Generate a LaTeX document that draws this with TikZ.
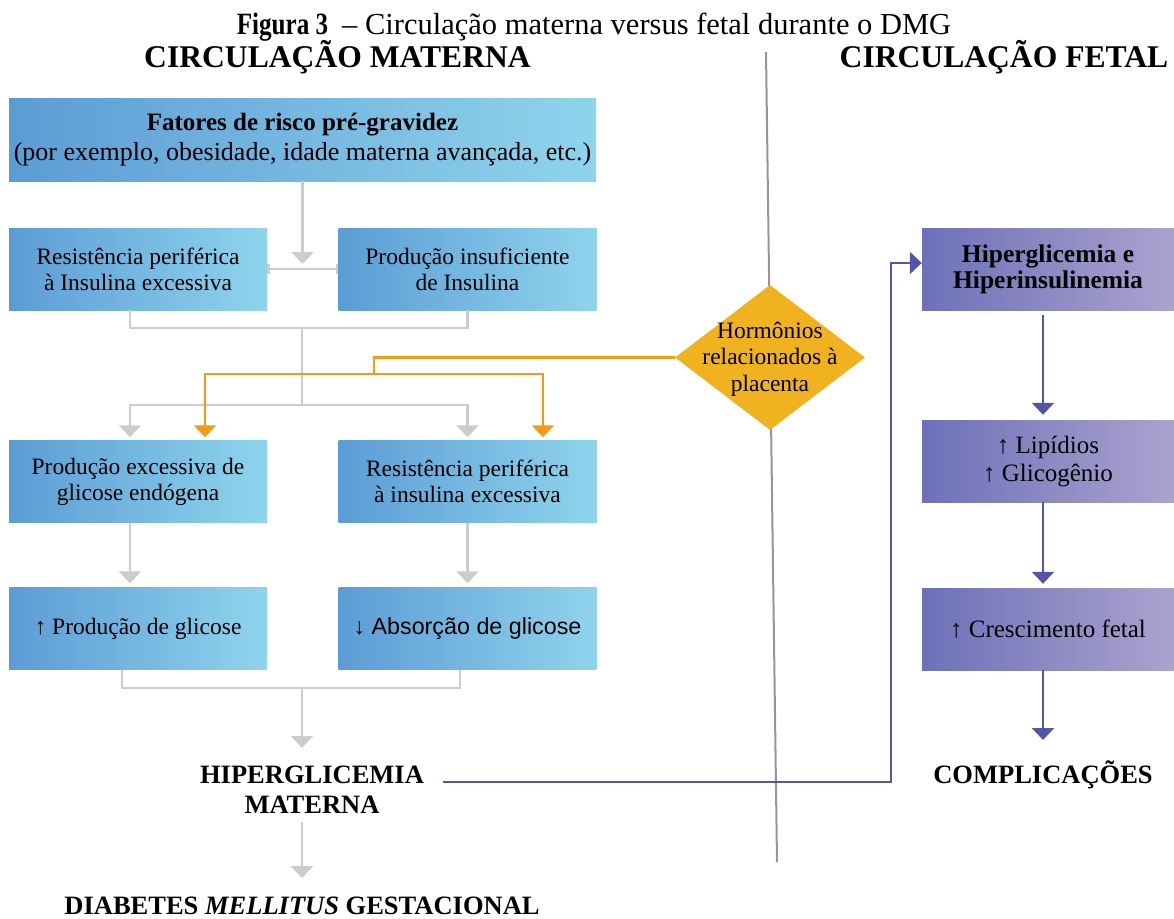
\documentclass[tikz,border=0pt]{standalone}
\usepackage{fontspec}
\setmainfont{Liberation Serif}
\newfontfamily\arialfont{Liberation Sans}
\usetikzlibrary{arrows.meta,shapes.geometric}

\definecolor{matL}{RGB}{92,156,213}
\definecolor{matR}{RGB}{143,212,236}
\definecolor{fetL}{RGB}{108,113,184}
\definecolor{fetR}{RGB}{172,162,206}
\definecolor{conn}{RGB}{204,204,204}
\definecolor{hormfill}{RGB}{240,178,30}
\definecolor{hormline}{RGB}{243,154,27}
\definecolor{fetline}{RGB}{82,85,168}
\definecolor{divider}{RGB}{150,150,150}

\begin{document}
\begin{tikzpicture}[x=1pt,y=-1pt,
  mbox/.style={shading=axis,left color=matL,right color=matR,draw=none,
    minimum width=258pt,minimum height=82pt,inner sep=0pt,align=center,
    font=\fontsize{23.5}{26}\selectfont},
  fbox/.style={shading=axis,left color=fetL,right color=fetR,draw=none,
    minimum width=252pt,minimum height=82pt,inner sep=0pt,align=center,
    font=\fontsize{25}{28}\selectfont},
  caps/.style={font=\bfseries\fontsize{26.5}{30}\selectfont,align=center,inner sep=0pt},
  heading/.style={font=\bfseries\fontsize{31.6}{36}\selectfont,inner sep=0pt},
  gline/.style={draw=conn,line width=2.5pt},
  garrow/.style={gline,-{Triangle[width=22pt,length=12pt]}},
  oline/.style={draw=hormline,line width=2.5pt},
  oarrow/.style={oline,-{Triangle[width=22pt,length=12pt]}},
  bline/.style={draw=fetline,line width=2.5pt},
  barrow/.style={bline,-{Triangle[width=22pt,length=12pt]}}]

\useasboundingbox (0,0) rectangle (1174,918);

% headings
\node[inner sep=0pt,anchor=base] (title) at (594,34)
  {\fontsize{31}{34}\selectfont\scalebox{0.81}[1]{\textbf{Figura 3}}\hspace{14pt}%
   \fontsize{30.5}{34}\selectfont\scalebox{1}[1]{– Circulação materna versus fetal durante o DMG}};
\node[heading] (hmat) at (337.5,57) {CIRCULAÇÃO MATERNA};
\node[heading] (hfet) at (1004,57) {CIRCULAÇÃO FETAL};

% divider between the two circulations
\coordinate (d0) at (766,52);
\coordinate (d1) at (777,862);
\draw[draw=divider,line width=2pt] (d0) -- (d1);

% maternal side
\node[mbox,minimum width=587pt,minimum height=83pt,font=\fontsize{26}{30}\selectfont]
  (top) at (302.5,139.5)
  {{\fontsize{25}{30}\selectfont\textbf{Fatores de risco pré-gravidez}}\\(por exemplo, obesidade, idade materna avançada, etc.)};
\node[mbox] (r2l) at (138,269) {Resistência periférica\\à Insulina excessiva};
\node[mbox] (r2r) at (467.5,269) {Produção insuficiente\\de Insulina};
\node[mbox] (r3l) at (138,481.5) {Produção excessiva de\\glicose endógena};
\node[mbox] (r3r) at (467.5,481.5) {Resistência periférica\\à insulina excessiva};
\node[mbox] (r4l) at (138,628.5) {↑ Produção de glicose};
\node[mbox,font=\arialfont\fontsize{23.3}{26}\selectfont] (r4r) at (467.5,628.5) {↓ Absorção de glicose};
\node[caps] (hipm) at (312,790) {HIPERGLICEMIA\\MATERNA};
\node[caps] (dmg) at (302,906) {DIABETES \textit{MELLITUS} GESTACIONAL};

% placental hormones
\node[diamond,fill=hormfill,draw=none,minimum width=190pt,minimum height=145pt,inner sep=0pt]
  (hor) at (770,357.5) {};
\node[align=center,font=\fontsize{23.5}{26.5}\selectfont] (hortext) at (770,359)
  {Hormônios\\relacionados à\\placenta};

% fetal side
\node[fbox,font=\bfseries\fontsize{25.5}{26}\selectfont] (f1) at (1048,269) {Hiperglicemia e\\Hiperinsulinemia};
\node[fbox] (f2) at (1048,461) {↑ Lipídios\\↑ Glicogênio};
\node[fbox] (f3) at (1048,629) {↑ Crescimento fetal};
\node[caps] (comp) at (1043,775) {COMPLICAÇÕES};

% maternal connectors
\coordinate (j0) at (302.5,269);
\draw[garrow] (top.south) -- ([yshift=5pt]j0);
\draw[gline,{Bar[width=10pt]}-{Bar[width=10pt]}] (r2l.east) -- (r2r.west);
\coordinate (j1) at (302,328);
\coordinate (j2) at (302,405);
\draw[gline] ([xshift=-8pt]r2l.south) |- (j1) -| (r2r.south);
\draw[gline] (j1) -- (j2);
\draw[garrow] (j2) -| ([xshift=-8pt,yshift=3pt]r3l.north);
\draw[garrow] (j2) -| ([yshift=3pt]r3r.north);

\coordinate (oj) at (374,374);
\draw[oline] (hor.west) -| (oj);
\draw[oarrow] (oj) -| ([xshift=67pt,yshift=3pt]r3l.north);
\draw[oarrow] (oj) -| ([xshift=75.5pt,yshift=3pt]r3r.north);

\draw[garrow] ([xshift=-8pt]r3l.south) -- ([xshift=-8pt,yshift=4pt]r4l.north);
\draw[garrow] (r3r.south) -- ([yshift=4pt]r4r.north);

\coordinate (j3) at (302,688);
\coordinate (a4) at (302,748);
\draw[gline] ([xshift=-16pt]r4l.south) |- (j3) -| ([xshift=-7.5pt]r4r.south);
\draw[garrow] (j3) -- (a4);
\coordinate (a5) at (302,822);
\coordinate (a6) at (302,878);
\draw[garrow] (a5) -- (a6);

% maternal hyperglycaemia reaches the fetus
\coordinate (b0) at (443,782);
\coordinate (b1) at (891,263);
\draw[barrow] (b0) -| (b1) -- ([yshift=6pt]f1.west);

% fetal connectors
\draw[barrow] ([xshift=-5pt,yshift=-5pt]f1.south) -- ([xshift=-5pt,yshift=5pt]f2.north);
\draw[barrow] ([xshift=-5pt]f2.south) -- ([xshift=-5pt,yshift=4pt]f3.north);
\coordinate (a7) at (1043,740);
\draw[barrow] ([xshift=-5pt]f3.south) -- (a7);
\end{tikzpicture}
\end{document}
